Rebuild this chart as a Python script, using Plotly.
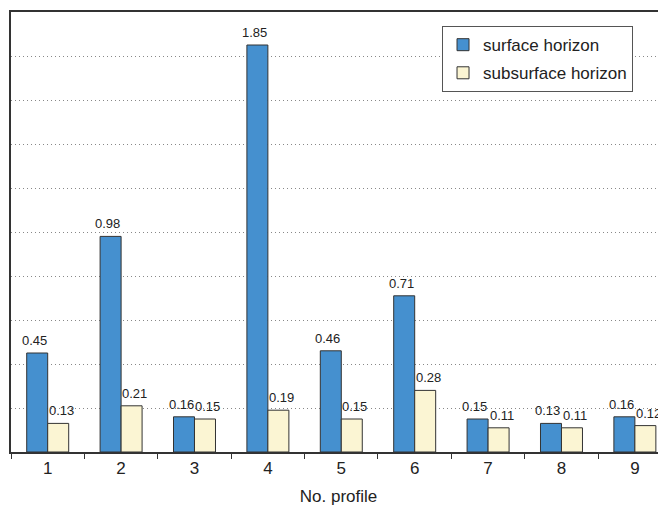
import plotly.graph_objects as go

profiles = ["1", "2", "3", "4", "5", "6", "7", "8", "9"]
surface = [0.45, 0.98, 0.16, 1.85, 0.46, 0.71, 0.15, 0.13, 0.16]
subsurface = [0.13, 0.21, 0.15, 0.19, 0.15, 0.28, 0.11, 0.11, 0.12]

FONT = "Liberation Sans, Arial, Helvetica"

fig = go.Figure()
fig.add_trace(go.Bar(
    x=profiles, y=surface, name="surface horizon", legendgroup="a",
    marker=dict(color="#4590cf", line=dict(color="#333333", width=1)),
    offsetgroup="a",
))
fig.add_trace(go.Bar(
    x=profiles, y=subsurface, name="subsurface horizon", legendgroup="b",
    marker=dict(color="#fbf5d3", line=dict(color="#333333", width=1)),
    offsetgroup="b",
))

# value labels placed through the axes' own scales
# each category is 1 unit wide; group width 0.572 -> each bar 0.286 wide
half = 0.286 / 2
for i, (p, s, u) in enumerate(zip(profiles, surface, subsurface)):
    fig.add_annotation(x=i - half, y=s, xref="x", yref="y", text=f"{s:.2f}",
                       showarrow=False, yanchor="bottom", yshift=3, xshift=-3,
                       font=dict(size=13, color="#222222", family=FONT))
    fig.add_annotation(x=i + half, y=u, xref="x", yref="y", text=f"{u:.2f}",
                       showarrow=False, yanchor="bottom", yshift=3, xshift=3,
                       font=dict(size=13, color="#222222", family=FONT))

fig.update_layout(
    width=658, height=498,
    margin=dict(l=3, r=0, t=4, b=54),
    paper_bgcolor="white", plot_bgcolor="white",
    barmode="group", bargap=0.428, bargroupgap=0,
    font=dict(family=FONT, color="#222222"),
    legend=dict(
        x=(441 - 8) / 658, y=1 - (24 - 8) / 498, xanchor="left", yanchor="top",
        xref="paper", yref="paper",
        bordercolor="#555555", borderwidth=1, bgcolor="white",
        font=dict(size=17, color="#222222", family=FONT),
        itemwidth=30, tracegroupgap=3,
    ),
    showlegend=True,
)
fig.update_xaxes(
    type="category", range=[-0.5, 8.424],
    showline=True, linecolor="#333333", linewidth=1.5, mirror=True,
    ticks="outside", tickson="boundaries", ticklen=5, tickcolor="#333333",
    tickfont=dict(size=17, color="#222222", family=FONT),
    title=dict(text="No. profile", font=dict(size=17, color="#222222", family=FONT), standoff=14),
    showgrid=False,
)
fig.update_yaxes(
    range=[0, 2.0], dtick=0.2,
    showline=True, linecolor="#333333", linewidth=1.5,
    showticklabels=False, ticks="",
    showgrid=True, gridcolor="#888888", griddash="1px,3px", gridwidth=1,
    zeroline=False,
)

fig.write_html("out.html")
